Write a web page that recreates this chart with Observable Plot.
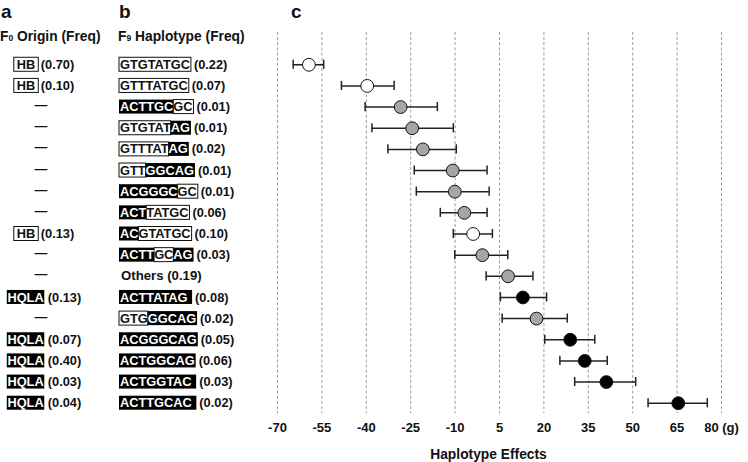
<!DOCTYPE html>
<html>
<head>
<meta charset="utf-8">
<script src="https://cdn.jsdelivr.net/npm/d3@7"></script>
<script src="https://cdn.jsdelivr.net/npm/@observablehq/plot@0.6"></script>
<style>
  html, body { margin: 0; padding: 0; background: #fff; }
  #chart { width: 748px; height: 462px; }
</style>
</head>
<body>
<div id="chart"></div>
<script>
// ---- data ----
const originLabel = ["HB","HB","—","—","—","—","—","—","HB","—","—","HQLA","—","HQLA","HQLA","HQLA","HQLA"];
const originFreq  = ["0.70","0.10","","","","","","","0.13","","","0.13","","0.07","0.40","0.03","0.04"];
const haplotypes  = ["GTGTATGC","GTTTATGC","ACTTGCGC","GTGTATAG","GTTTATAG","GTTGGCAG","ACGGGCGC","ACTTATGC","ACGTATGC","ACTTGCAG","Others","ACTTATAG ","GTGGGCAG","ACGGGCAG","ACTGGCAG","ACTGGTAC ","ACTTGCAC "];
// H = HB-derived (boxed), Q = HQLA-derived (black)
const haplotypeOrigin = ["HHHHHHHH","HHHHHHHH","QQQQQQHH","HHHHHHQQ","HHHHHHQQ","HHHQQQQQ","QQQQQQHH","QQQHHHHH","QQHHHHHH","QQQQHHQQ","","QQQQQQQQQ","HHHQQQQQ","QQQQQQQQ","QQQQQQQQ","QQQQQQQQQ","QQQQQQQQQ"];
const haplotypeFreq = ["0.22","0.07","0.01","0.01","0.02","0.01","0.01","0.06","0.10","0.03","0.19","0.08","0.02","0.05","0.06","0.03","0.02"];
const effect = [-59.4,-39.7,-28.4,-24.5,-20.9,-10.8,-10.1,-6.9,-3.9,-0.8,7.9,12.9,17.5,28.9,33.8,41.1,65.4];
const lower  = [-64.7,-48.4,-40.4,-38.1,-32.7,-23.8,-23.1,-15.0,-10.6,-10.1,0.5,5.3,5.9,20.3,25.4,30.4,55.2];
const upper  = [-54.4,-30.6,-16.0,-10.6,-9.6,0.8,1.5,0.8,2.6,7.8,16.3,20.9,27.9,37.2,41.4,51.0,75.2];
const dotClass = ["HB","HB","mix","mix","mix","mix","mix","mix","HB","mix","mix","HQLA","mix","HQLA","HQLA","HQLA","HQLA"];
const xTicks = [-70,-55,-40,-25,-10,5,20,35,50,65,80];

const FONT = "'Liberation Sans', Arial, Helvetica, sans-serif";
const fillFor = {HB: "#ffffff", mix: "#a5a5a5", HQLA: "#000000"};

const rows = d3.range(haplotypes.length);
const data = rows.map(i => ({i, effect: effect[i], lo: lower[i], hi: upper[i], fill: fillFor[dotClass[i]]}));

const plot = Plot.plot({
  width: 748,
  height: 462,
  marginLeft: 277,
  marginRight: 27,
  marginTop: 53.7,
  marginBottom: 48.7,
  style: {fontFamily: FONT, background: "#fff", color: "#111"},
  x: {domain: [-70, 80], axis: null},
  y: {type: "band", domain: rows, padding: 0, round: false, axis: null},
  color: {type: "identity"},
  marks: [
    Plot.gridX(xTicks, {stroke: "#9c9c9c", strokeOpacity: 1, strokeWidth: 1, strokeDasharray: "3,2.2", insetTop: -22}),
    Plot.axisX(xTicks, {
      tickSize: 0, tickPadding: 9.3, label: null,
      tickFormat: d => d === 80 ? "80 (g)" : String(d),
      fontWeight: "bold", fontSize: 13, fill: "#111"
    }),
    Plot.ruleY(data, {x1: "lo", x2: "hi", y: "i", stroke: "#222", strokeWidth: 1.5}),
    Plot.tickX(data, {x: "lo", y: "i", stroke: "#222", strokeWidth: 1.5, insetTop: 6, insetBottom: 6}),
    Plot.tickX(data, {x: "hi", y: "i", stroke: "#222", strokeWidth: 1.5, insetTop: 6, insetBottom: 6}),
    Plot.dot(data, {x: "effect", y: "i", r: 6.4, fill: "fill", stroke: "#111", strokeWidth: 1}),
    Plot.text(["Haplotype Effects"], {frameAnchor: "bottom", lineAnchor: "top", dy: 35, dx: -11, fontWeight: "bold", fontSize: 13.8, fill: "#111"})
  ]
});
document.getElementById("chart").append(plot);

// ---- left panels (a, b) positioned with the plot's own y scale ----
const svg = d3.select(plot);
const yDesc = plot.scale("y");
const yBand = typeof yDesc.apply === "function"
  ? (v => yDesc.apply(v))
  : d3.scaleBand(yDesc.domain, yDesc.range).paddingInner(yDesc.paddingInner || 0).paddingOuter(yDesc.paddingOuter || 0).align(yDesc.align ?? 0.5);
const bw = yDesc.bandwidth;
const yc = i => yBand(i) + bw / 2;

const g = svg.append("g").attr("font-family", FONT).attr("font-weight", "bold").attr("fill", "#111");
const FS = 12.8;
function measure(t, size) {
  const el = g.append("text").attr("font-size", size).attr("xml:space", "preserve").style("white-space", "pre").text(t);
  const w = el.node().getComputedTextLength();
  el.remove();
  return w;
}
function addText(t, x, y, size, opts = {}) {
  return g.append("text").attr("x", x).attr("y", y).attr("font-size", size)
    .attr("xml:space", "preserve").style("white-space", "pre")
    .attr("fill", opts.fill || "#111").attr("text-anchor", opts.anchor || "start").text(t);
}

// panel letters & headers
addText("a", 1, 18, 19);
addText("b", 119, 18, 19);
addText("c", 291, 18, 19);
const h1 = addText("F", 0, 41, 13.8);
h1.append("tspan").attr("font-size", 8.5).text("0");
h1.append("tspan").text(" Origin (Freq)");
const h2 = addText("F", 118, 41, 13.8);
h2.append("tspan").attr("font-size", 8.5).text("9");
h2.append("tspan").text(" Haplotype (Freq)");

// panel a
const aCenter = 44;
rows.forEach(i => {
  const y = yc(i);
  const base = y + 0.36 * FS;
  const lab = originLabel[i];
  if (lab === "—") {
    addText("—", 41, y + 2.5, FS, {anchor: "middle"});
    return;
  }
  const isHB = lab === "HB";
  const pad = isHB ? 3 : 0.6;
  const gap = isHB ? 2.5 : 3.5;
  const wl = measure(lab, FS);
  const ftxt = "(" + originFreq[i] + ")";
  const wf = measure(ftxt, FS);
  const total = wl + 2 * pad + gap + wf;
  const x0 = aCenter - total / 2;
  g.append("rect").attr("x", x0).attr("y", y - 7).attr("width", wl + 2 * pad).attr("height", 14)
    .attr("fill", isHB ? "#fff" : "#000").attr("stroke", isHB ? "#111" : "none").attr("stroke-width", 1);
  addText(lab, x0 + pad, base, FS, {fill: isHB ? "#111" : "#fff"});
  addText(ftxt, x0 + wl + 2 * pad + gap, base, FS);
});

// panel b
const bLeft = 119;
rows.forEach(i => {
  const y = yc(i);
  const base = y + 0.36 * FS;
  const hap = haplotypes[i];
  const mask = haplotypeOrigin[i];
  const ftxt = "(" + haplotypeFreq[i] + ")";
  if (!mask) {
    const w = measure(hap + " ", 13.2);
    addText(hap, bLeft + 2, base, 13.2);
    addText(ftxt, bLeft + 2 + w, base, 13.2);
    return;
  }
  const segs = [];
  for (let k = 0; k < hap.length; k++) {
    const t = mask[k];
    if (segs.length && segs[segs.length - 1].t === t) segs[segs.length - 1].s += hap[k];
    else segs.push({t, s: hap[k]});
  }
  const pad = 1;
  let cx = bLeft + pad;
  const placed = segs.map(sg => {
    const w = measure(sg.s, FS);
    const p = {sg, x: cx, w};
    cx += w;
    return p;
  });
  placed.forEach((p, k) => {
    const rx = k === 0 ? p.x - pad : p.x;
    const rw = p.w + (k === 0 ? pad : 0) + (k === placed.length - 1 ? pad : 0);
    g.append("rect").attr("x", rx).attr("y", y - 7).attr("width", rw).attr("height", 14)
      .attr("fill", p.sg.t === "Q" ? "#000" : "#fff").attr("stroke", p.sg.t === "Q" ? "none" : "#111").attr("stroke-width", 1);
  });
  placed.forEach(p => {
    addText(p.sg.s, p.x, base, FS, {fill: p.sg.t === "Q" ? "#fff" : "#111"});
  });
  addText(ftxt, cx + pad + 3, base, FS);
});
</script>
</body>
</html>
